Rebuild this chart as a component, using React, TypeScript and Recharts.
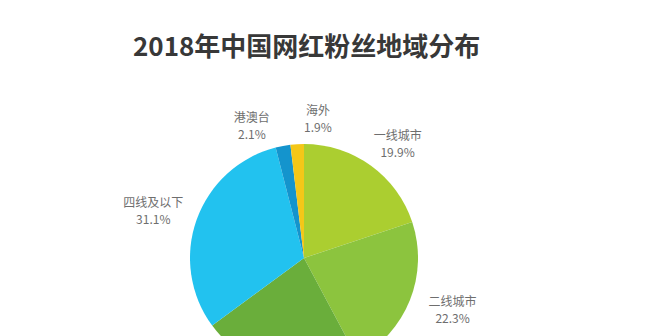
import React from "react";
import { PieChart, Pie, Cell } from "recharts";

const regions = ["一线城市", "二线城市", "三线城市", "四线及以下", "港澳台", "海外"];
const shares = [19.9, 22.3, 22.7, 31.1, 2.1, 1.9];
const colors = ["#abce30", "#8cc43e", "#6aae3b", "#22c2ef", "#1494cd", "#f4c718"];

const data = regions.map((name, i) => ({ name, value: shares[i] }));

const RADIAN = Math.PI / 180;
const FONT = '"Noto Sans CJK SC", "Noto Sans", sans-serif';
const START = 90;
const MIN_GAP = 24; // degrees kept between neighbouring labels

// label angles: slice mid angles, pushed apart where slices are too thin
const total = shares.reduce((a, b) => a + b, 0);
const labelAngles: number[] = (() => {
  let acc = START;
  const mids = shares.map((v) => {
    const span = (v / total) * 360;
    const mid = acc - span / 2;
    acc -= span;
    return mid;
  });
  for (let pass = 0; pass < 5; pass++) {
    for (let i = 0; i < mids.length - 1; i++) {
      const gap = mids[i] - mids[i + 1];
      if (gap < MIN_GAP) {
        const push = (MIN_GAP - gap) / 2;
        mids[i] += push;
        mids[i + 1] -= push;
      }
    }
    // wrap-around pair (last slice and first slice)
    const last = mids.length - 1;
    const gapWrap = mids[last] + 360 - mids[0];
    if (gapWrap < MIN_GAP) {
      const push = (MIN_GAP - gapWrap) / 2;
      mids[last] += push;
      mids[0] -= push;
    }
  }
  return mids;
})();

const renderLabel = (props: any) => {
  const { cx, cy, outerRadius, name, value, index } = props;
  const angle = labelAngles[index];
  // labels sit on a flat ellipse around the pie
  const rx = outerRadius + 46;
  const ry = outerRadius + 26;
  const x = cx + rx * Math.cos(-angle * RADIAN);
  const y = cy + ry * Math.sin(-angle * RADIAN);
  return (
    <text x={x} y={y} fill="#6e6e6e" fontSize={12} fontFamily={FONT} textAnchor="middle">
      <tspan x={x} dy={-4}>{name}</tspan>
      <tspan x={x} dy={17}>{`${value.toFixed(1)}%`}</tspan>
    </text>
  );
};

export default function App() {
  return (
    <div style={{ position: "absolute", left: 0, top: 0, width: 645, height: 336, background: "#fff", overflow: "hidden" }}>
      <div
        style={{
          position: "absolute",
          left: 133,
          top: 25,
          fontFamily: FONT,
          fontWeight: 700,
          fontSize: 26,
          lineHeight: "40px",
          color: "#383838",
          whiteSpace: "nowrap",
        }}
      >
        2018年中国网红粉丝地域分布
      </div>
      <PieChart
        width={645}
        height={336}
        margin={{ top: 0, right: 0, bottom: 0, left: 0 }}
        style={{ position: "absolute", left: 0, top: 0 }}
      >
        <Pie
          data={data}
          dataKey="value"
          nameKey="name"
          cx={304}
          cy={258}
          outerRadius={114}
          startAngle={START}
          endAngle={START - 360}
          stroke="none"
          label={renderLabel}
          labelLine={false}
          isAnimationActive={false}
        >
          {data.map((entry, i) => (
            <Cell key={`cell-${i}`} fill={colors[i]} />
          ))}
        </Pie>
      </PieChart>
    </div>
  );
}
